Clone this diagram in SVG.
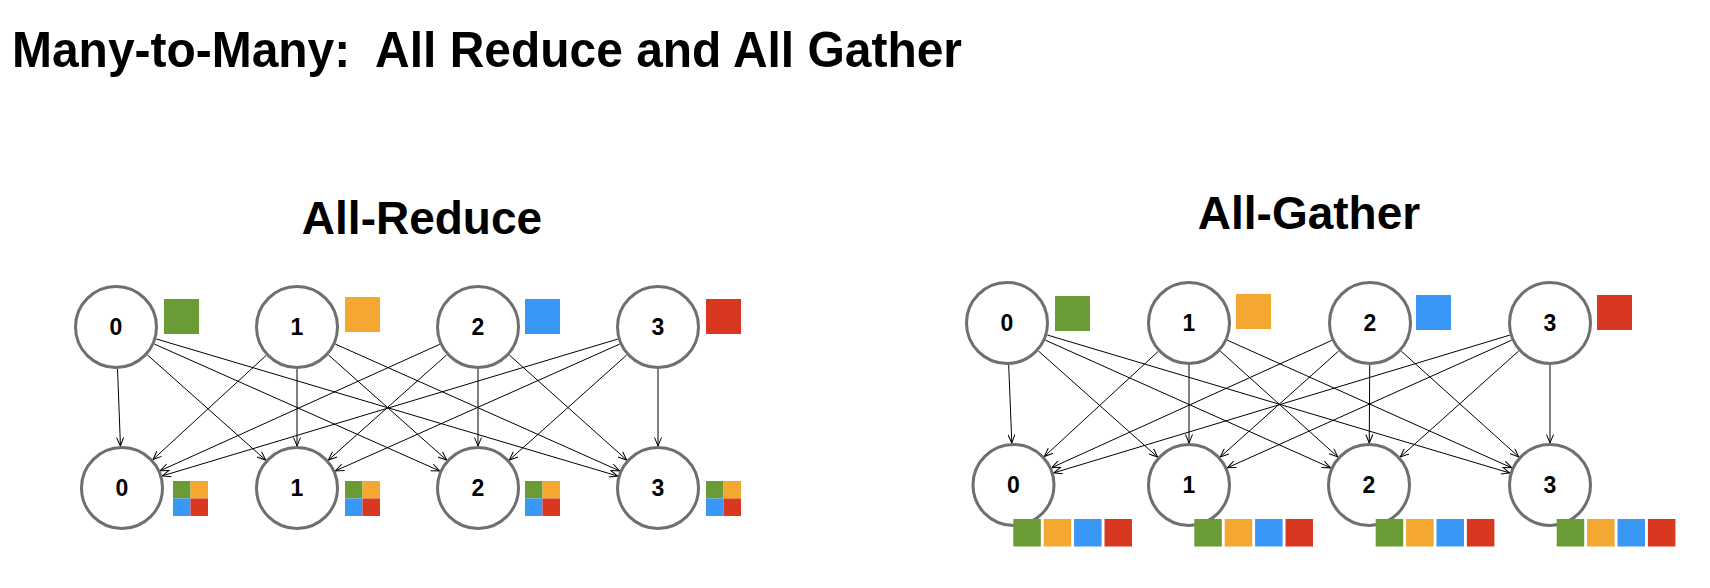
<svg xmlns="http://www.w3.org/2000/svg" width="1710" height="588" viewBox="0 0 1710 588">
<defs>
<style>
.title{font-family:"Liberation Sans",Arial,sans-serif;font-weight:bold;fill:#000;white-space:pre}
.node circle{fill:#fff;stroke:#6f6f6f;stroke-width:3}
.node text{font-family:"Liberation Sans",Arial,sans-serif;font-weight:bold;font-size:23px;fill:#000;text-anchor:middle}
.edges line{stroke:#000;stroke-width:1;fill:none;marker-end:url(#arr)}
.g{fill:#6b9b34}.o{fill:#f4a831}.b{fill:#3897f7}.r{fill:#d8381f}
</style>
<marker id="arr" markerUnits="userSpaceOnUse" viewBox="0 0 10 8" refX="9.5" refY="4" markerWidth="10" markerHeight="8" orient="auto">
<path d="M1,0.5 L9.5,4 L1,7.5" fill="none" stroke="#000" stroke-width="1"/>
</marker>
</defs>
<rect width="1710" height="588" fill="#fff"/>
<text class="title" x="12" y="67" font-size="50" textLength="950" lengthAdjust="spacingAndGlyphs" xml:space="preserve">Many-to-Many:  All Reduce and All Gather</text>
<text class="title" x="422" y="234" font-size="46" text-anchor="middle">All-Reduce</text>
<text class="title" x="1309" y="229" font-size="46" text-anchor="middle">All-Gather</text>

<g id="edges-reduce" class="edges">
<line x1="117.56" y1="368.97" x2="120.44" y2="446.03"/>
<line x1="147.38" y1="354.91" x2="265.62" y2="460.09"/>
<line x1="154.38" y1="344.07" x2="439.62" y2="470.93"/>
<line x1="156.26" y1="338.96" x2="617.74" y2="476.04"/>
<line x1="266.09" y1="355.44" x2="152.91" y2="459.56"/>
<line x1="297" y1="369" x2="297" y2="446"/>
<line x1="328.38" y1="354.91" x2="446.62" y2="460.09"/>
<line x1="335.36" y1="344.11" x2="619.64" y2="470.89"/>
<line x1="439.73" y1="344.31" x2="160.27" y2="470.69"/>
<line x1="446.62" y1="354.91" x2="328.38" y2="460.09"/>
<line x1="478" y1="369" x2="478" y2="446"/>
<line x1="509.30" y1="355.0" x2="626.70" y2="460.0"/>
<line x1="617.78" y1="339.08" x2="162.22" y2="475.92"/>
<line x1="619.64" y1="344.11" x2="335.36" y2="470.89"/>
<line x1="626.70" y1="355.0" x2="509.30" y2="460.0"/>
<line x1="658" y1="369" x2="658" y2="446"/>
</g>

<g id="edges-gather" class="edges">
<line x1="1008.68" y1="364.97" x2="1011.82" y2="443.03"/>
<line x1="1038.37" y1="350.93" x2="1157.63" y2="457.07"/>
<line x1="1045.34" y1="340.16" x2="1330.66" y2="467.84"/>
<line x1="1047.25" y1="335.01" x2="1509.75" y2="472.99"/>
<line x1="1158.14" y1="351.49" x2="1044.36" y2="456.51"/>
<line x1="1189" y1="365" x2="1189" y2="443"/>
<line x1="1220.22" y1="351.10" x2="1337.78" y2="456.90"/>
<line x1="1227.32" y1="340.19" x2="1511.68" y2="467.81"/>
<line x1="1331.76" y1="340.38" x2="1051.74" y2="467.62"/>
<line x1="1338.70" y1="351.01" x2="1220.29" y2="456.99"/>
<line x1="1369.74" y1="364.99" x2="1369.26" y2="443.01"/>
<line x1="1401.22" y1="351.10" x2="1518.78" y2="456.90"/>
<line x1="1509.79" y1="335.14" x2="1053.71" y2="472.86"/>
<line x1="1511.68" y1="340.19" x2="1227.32" y2="467.81"/>
<line x1="1518.70" y1="351.01" x2="1400.29" y2="456.99"/>
<line x1="1550" y1="365" x2="1550" y2="443"/>
</g>

<!-- All-Reduce nodes -->
<g id="reduce-top-0" class="node"><circle cx="116" cy="327" r="40.5"/><text x="116" y="335">0</text><rect class="g" x="164" y="299" width="35" height="35"/></g>
<g id="reduce-top-1" class="node"><circle cx="297" cy="327" r="40.5"/><text x="297" y="335">1</text><rect class="o" x="345" y="297" width="35" height="35"/></g>
<g id="reduce-top-2" class="node"><circle cx="478" cy="327" r="40.5"/><text x="478" y="335">2</text><rect class="b" x="525" y="299" width="35" height="35"/></g>
<g id="reduce-top-3" class="node"><circle cx="658" cy="327" r="40.5"/><text x="658" y="335">3</text><rect class="r" x="706" y="299" width="35" height="35"/></g>

<g id="reduce-bottom-0" class="node"><circle cx="122" cy="488" r="40.5"/><text x="122" y="496">0</text>
<rect class="g" x="173" y="481" width="17.5" height="17.5"/><rect class="o" x="190.5" y="481" width="17.5" height="17.5"/><rect class="b" x="173" y="498.5" width="17.5" height="17.5"/><rect class="r" x="190.5" y="498.5" width="17.5" height="17.5"/></g>
<g id="reduce-bottom-1" class="node"><circle cx="297" cy="488" r="40.5"/><text x="297" y="496">1</text>
<rect class="g" x="345" y="481" width="17.5" height="17.5"/><rect class="o" x="362.5" y="481" width="17.5" height="17.5"/><rect class="b" x="345" y="498.5" width="17.5" height="17.5"/><rect class="r" x="362.5" y="498.5" width="17.5" height="17.5"/></g>
<g id="reduce-bottom-2" class="node"><circle cx="478" cy="488" r="40.5"/><text x="478" y="496">2</text>
<rect class="g" x="525" y="481" width="17.5" height="17.5"/><rect class="o" x="542.5" y="481" width="17.5" height="17.5"/><rect class="b" x="525" y="498.5" width="17.5" height="17.5"/><rect class="r" x="542.5" y="498.5" width="17.5" height="17.5"/></g>
<g id="reduce-bottom-3" class="node"><circle cx="658" cy="488" r="40.5"/><text x="658" y="496">3</text>
<rect class="g" x="706" y="481" width="17.5" height="17.5"/><rect class="o" x="723.5" y="481" width="17.5" height="17.5"/><rect class="b" x="706" y="498.5" width="17.5" height="17.5"/><rect class="r" x="723.5" y="498.5" width="17.5" height="17.5"/></g>

<!-- All-Gather nodes -->
<g id="gather-top-0" class="node"><circle cx="1007" cy="323" r="40.5"/><text x="1007" y="331">0</text><rect class="g" x="1055" y="296" width="35" height="35"/></g>
<g id="gather-top-1" class="node"><circle cx="1189" cy="323" r="40.5"/><text x="1189" y="331">1</text><rect class="o" x="1236" y="294" width="35" height="35"/></g>
<g id="gather-top-2" class="node"><circle cx="1370" cy="323" r="40.5"/><text x="1370" y="331">2</text><rect class="b" x="1416" y="295" width="35" height="35"/></g>
<g id="gather-top-3" class="node"><circle cx="1550" cy="323" r="40.5"/><text x="1550" y="331">3</text><rect class="r" x="1597" y="295" width="35" height="35"/></g>

<g id="gather-bottom-0" class="node"><circle cx="1013.5" cy="485" r="40.5"/><text x="1013.5" y="493">0</text>
<rect class="g" x="1013.3" y="519" width="27.5" height="27.5"/><rect class="o" x="1043.7" y="519" width="27.5" height="27.5"/><rect class="b" x="1074.1" y="519" width="27.5" height="27.5"/><rect class="r" x="1104.5" y="519" width="27.5" height="27.5"/></g>
<g id="gather-bottom-1" class="node"><circle cx="1189" cy="485" r="40.5"/><text x="1189" y="493">1</text>
<rect class="g" x="1194.3" y="519" width="27.5" height="27.5"/><rect class="o" x="1224.7" y="519" width="27.5" height="27.5"/><rect class="b" x="1255.1" y="519" width="27.5" height="27.5"/><rect class="r" x="1285.5" y="519" width="27.5" height="27.5"/></g>
<g id="gather-bottom-2" class="node"><circle cx="1369" cy="485" r="40.5"/><text x="1369" y="493">2</text>
<rect class="g" x="1375.7" y="519" width="27.5" height="27.5"/><rect class="o" x="1406.1" y="519" width="27.5" height="27.5"/><rect class="b" x="1436.5" y="519" width="27.5" height="27.5"/><rect class="r" x="1466.9" y="519" width="27.5" height="27.5"/></g>
<g id="gather-bottom-3" class="node"><circle cx="1550" cy="485" r="40.5"/><text x="1550" y="493">3</text>
<rect class="g" x="1556.7" y="519" width="27.5" height="27.5"/><rect class="o" x="1587.1" y="519" width="27.5" height="27.5"/><rect class="b" x="1617.5" y="519" width="27.5" height="27.5"/><rect class="r" x="1647.9" y="519" width="27.5" height="27.5"/></g>
</svg>
